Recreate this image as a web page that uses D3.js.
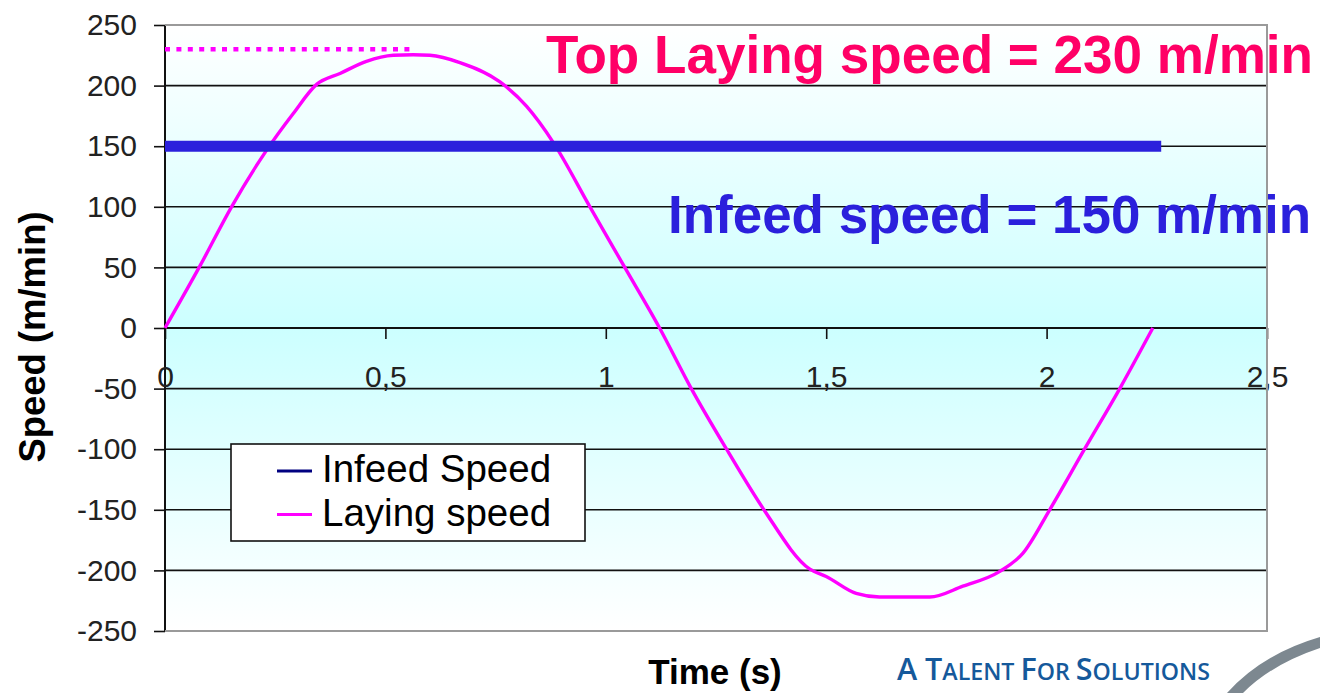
<!DOCTYPE html>
<html>
<head>
<meta charset="utf-8">
<script src="https://cdn.jsdelivr.net/npm/d3@7"></script>
<style>
  html, body { margin: 0; padding: 0; background: #fff; }
  svg { display: block; }
</style>
</head>
<body>
<svg id="chart" width="1320" height="693"></svg>
<script>
// Laying speed over one cycle (time in s, speed in m/min)
const timeS = [0, 0.079, 0.151, 0.231, 0.291, 0.344, 0.397, 0.457, 0.518, 0.563, 0.601, 0.669,
  0.760, 0.820, 0.881, 0.964, 1.043, 1.122, 1.194, 1.274, 1.357, 1.463, 1.500, 1.568, 1.621,
  1.735, 1.810, 1.893, 1.946, 2.007, 2.086, 2.166, 2.241];
const layingSpeed = [0, 51, 100, 147, 177, 201, 210, 220, 225, 225.5, 225, 219,
  203, 183, 153, 100, 50, 0, -50, -100, -149, -199, -205, -219, -222,
  -222, -213, -201, -186, -150, -100, -50, 0];

// Constant infeed speed
const infeedTime = [0, 2.26];
const infeedSpeed = [150, 150];

// Top laying speed marker
const topTime = [0, 0.563];
const topSpeed = [230, 230];

// Axes
const xTicks = [0, 0.5, 1, 1.5, 2, 2.5];
const xTickLabels = ["0", "0,5", "1", "1,5", "2", "2,5"];
const yTicks = [-250, -200, -150, -100, -50, 0, 50, 100, 150, 200, 250];
const yTickLabels = ["-250", "-200", "-150", "-100", "-50", "0", "50", "100", "150", "200", "250"];

const seriesNames = ["Infeed Speed", "Laying speed"];
const legendColors = ["#000080", "#ff00ff"];

const svg = d3.select("#chart");
const plot = { left: 165, right: 1267, top: 25, bottom: 631 };

const x = d3.scaleLinear().domain([0, 2.5]).range([plot.left, plot.right]);
const y = d3.scaleLinear().domain([-250, 250]).range([plot.bottom, plot.top]);

const FONT = "'Liberation Sans', Arial, sans-serif";

// Plot background: white at the edges, pale cyan around zero
const defs = svg.append("defs");
const grad = defs.append("linearGradient")
  .attr("id", "plotBg").attr("x1", 0).attr("y1", 0).attr("x2", 0).attr("y2", 1);
grad.append("stop").attr("offset", "0%").attr("stop-color", "#ffffff");
grad.append("stop").attr("offset", "50%").attr("stop-color", "#ccffff");
grad.append("stop").attr("offset", "100%").attr("stop-color", "#ffffff");

svg.append("rect")
  .attr("x", plot.left).attr("y", plot.top)
  .attr("width", plot.right - plot.left).attr("height", plot.bottom - plot.top)
  .attr("fill", "url(#plotBg)");

// Horizontal gridlines
svg.append("g")
  .selectAll("line")
  .data(yTicks.filter(d => d > -250 && d < 250))
  .join("line")
  .attr("x1", plot.left).attr("x2", plot.right)
  .attr("y1", d => y(d)).attr("y2", d => y(d))
  .attr("stroke", "#111").attr("stroke-width", 1.6);

// Y axis
const yAxis = d3.axisLeft(y)
  .tickValues(yTicks)
  .tickFormat((d, i) => yTickLabels[i])
  .tickSize(11)
  .tickPadding(17);
const gy = svg.append("g").attr("transform", `translate(${plot.left},0)`).call(yAxis);
gy.select(".domain").attr("stroke", "#111").attr("stroke-width", 2).attr("d", `M0,${plot.top}V${plot.bottom}`);
gy.selectAll(".tick line").attr("stroke", "#111").attr("stroke-width", 1.6);
gy.selectAll(".tick text")
  .attr("font-family", FONT).attr("font-size", 30).attr("fill", "#222");

// X axis through zero
const xAxis = d3.axisBottom(x)
  .tickValues(xTicks)
  .tickFormat((d, i) => xTickLabels[i])
  .tickSize(11)
  .tickPadding(27);
const gx = svg.append("g").attr("transform", `translate(0,${y(0)})`).call(xAxis);
gx.select(".domain").attr("stroke", "#111").attr("stroke-width", 1.8).attr("d", `M${plot.left},0H${plot.right}`);
gx.selectAll(".tick line").attr("stroke", "#111").attr("stroke-width", 1.6);
gx.selectAll(".tick text")
  .attr("font-family", FONT).attr("font-size", 30).attr("fill", "#222");

// Laying speed curve
const lineGen = d3.line()
  .x(d => x(d[0]))
  .y(d => y(d[1]))
  .curve(d3.curveMonotoneX);

svg.append("path")
  .datum(timeS.map((t, i) => [t, layingSpeed[i]]))
  .attr("d", lineGen)
  .attr("fill", "none")
  .attr("stroke", "#ff00ff")
  .attr("stroke-width", 3.4);

// Dotted top-speed marker
svg.append("path")
  .datum(topTime.map((t, i) => [t, topSpeed[i]]))
  .attr("d", d3.line().x(d => x(d[0])).y(d => y(d[1])))
  .attr("fill", "none")
  .attr("stroke", "#ff00ff")
  .attr("stroke-width", 4.5)
  .attr("stroke-dasharray", "5 6.4");

// Infeed speed line
svg.append("path")
  .datum(infeedTime.map((t, i) => [t, infeedSpeed[i]]))
  .attr("d", d3.line().x(d => x(d[0])).y(d => y(d[1])))
  .attr("fill", "none")
  .attr("stroke", "#2b20dc")
  .attr("stroke-width", 11);

// Legend
const legend = svg.append("g");
legend.append("rect")
  .attr("x", 231).attr("y", 444).attr("width", 354).attr("height", 97)
  .attr("fill", "#fff").attr("stroke", "#111").attr("stroke-width", 1.6);
seriesNames.forEach((name, i) => {
  const cy = 471 + i * 43.5;
  legend.append("line")
    .attr("x1", 277).attr("x2", 312).attr("y1", cy).attr("y2", cy)
    .attr("stroke", legendColors[i]).attr("stroke-width", 3);
  legend.append("text")
    .attr("x", 322).attr("y", cy + 11)
    .attr("font-family", FONT).attr("font-size", 38.5).attr("fill", "#000")
    .text(name);
});

// Annotations
svg.append("text")
  .attr("x", 546).attr("y", 73)
  .attr("font-family", FONT).attr("font-weight", "bold").attr("font-size", 53)
  .attr("fill", "#ff0066")
  .attr("textLength", 767).attr("lengthAdjust", "spacingAndGlyphs")
  .text("Top Laying speed = 230 m/min");

svg.append("text")
  .attr("x", 668).attr("y", 233)
  .attr("font-family", FONT).attr("font-weight", "bold").attr("font-size", 53)
  .attr("fill", "#2b20dc")
  .attr("textLength", 643).attr("lengthAdjust", "spacingAndGlyphs")
  .text("Infeed speed = 150 m/min");

// Plot frame (top, right, bottom)
svg.append("path")
  .attr("d", `M${plot.left},${plot.top}H${plot.right}V${plot.bottom}H${plot.left}`)
  .attr("fill", "none").attr("stroke", "#9a9a9a").attr("stroke-width", 2);

// Axis titles
svg.append("text")
  .attr("transform", `translate(45,337) rotate(-90)`)
  .attr("text-anchor", "middle")
  .attr("font-family", FONT).attr("font-weight", "bold").attr("font-size", 36)
  .attr("fill", "#000")
  .attr("textLength", 251).attr("lengthAdjust", "spacingAndGlyphs")
  .text("Speed (m/min)");

svg.append("text")
  .attr("x", 715).attr("y", 684)
  .attr("text-anchor", "middle")
  .attr("font-family", FONT).attr("font-weight", "bold").attr("font-size", 35)
  .attr("fill", "#000")
  .text("Time (s)");

// Company tagline in small caps, sized to its slot
const tagParts = [["A T", 1], ["ALENT ", 0.76], ["F", 1], ["OR ", 0.76], ["S", 1], ["OLUTIONS", 0.76]];
const tag = svg.append("text")
  .attr("x", 897).attr("y", 680)
  .attr("font-family", "'Open Sans', sans-serif")
  .attr("font-weight", 600)
  .attr("fill", "#15599b");
const spans = tagParts.map(([s, k]) => tag.append("tspan").attr("font-size", 34 * k).text(s));
const natural = tag.node().getComputedTextLength();
const base = 34 * 313 / natural;
spans.forEach((sp, i) => sp.attr("font-size", base * tagParts[i][1]));

// Logo swoosh in the corner
svg.append("path")
  .attr("d", "M1227,693 Q1262,654 1320,637 L1320,648 Q1272,664 1243,693 Z")
  .attr("fill", "#7d8890");
</script>
</body>
</html>
